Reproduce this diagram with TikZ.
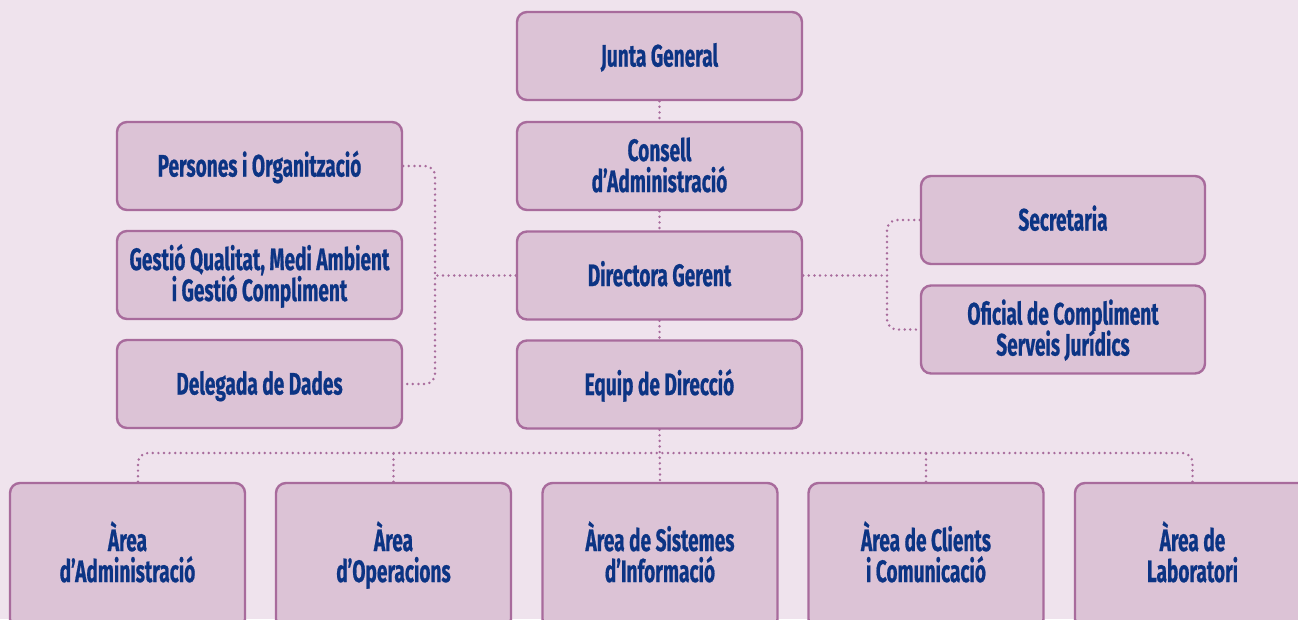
\documentclass[tikz,border=0pt]{standalone}
\usepackage{fontspec}
\setmainfont{Fira Sans}[FakeStretch=0.615, BoldFeatures={FakeBold=0.6}]
\usetikzlibrary{calc}
\definecolor{bgc}{HTML}{EFE3ED}
\definecolor{boxfill}{HTML}{DCC3D6}
\definecolor{boxline}{HTML}{A86B9C}
\definecolor{txt}{HTML}{0C3484}
\newcommand\tl[1]{\rule{0pt}{21pt}\smash{#1}}
\tikzset{
  orgbox/.style={draw=boxline, fill=boxfill, line width=2.4pt, rounded corners=10pt,
    minimum width=285pt, minimum height=88pt, align=center, text=txt,
    font=\bfseries\fontsize{31}{31}\selectfont, inner sep=0pt},
  areabox/.style={orgbox, minimum width=235pt, minimum height=146pt},
  conn/.style={draw=boxline, line width=2.7pt, line cap=round, dash pattern=on 0pt off 5.6pt},
}
\begin{document}
\begin{tikzpicture}[x=1pt, y=-1pt]
\fill[bgc] (0,0) rectangle (1298,619);
\useasboundingbox (0,0) rectangle (1298,619);
\clip (0,0) rectangle (1298,619);
% central column
\node[orgbox] (JG) at (659.5,56) {\tl{Junta General}};
\node[orgbox] (CA) at (659.5,166) {\tl{Consell}\\\tl{d’Administració}};
\node[orgbox] (DG) at (659.5,275.5) {\tl{Directora Gerent}};
\node[orgbox] (ED) at (659.5,384.5) {\tl{Equip de Direcció}};
% left column
\node[orgbox] (PO) at (259.5,166) {\tl{Persones i Organització}};
\node[orgbox] (GQ) at (259.5,275) {\tl{Gestió Qualitat, Medi Ambient}\\\tl{i Gestió Compliment}};
\node[orgbox] (DD) at (259.5,384) {\tl{Delegada de Dades}};
% right column
\node[orgbox, minimum width=284pt] (SE) at (1063,220) {\tl{Secretaria}};
\node[orgbox, minimum width=284pt] (OC) at (1063,329.5) {\tl{Oficial de Compliment}\\\tl{Serveis Jurídics}};
% bottom row
\node[areabox] (A1) at (127.5,556) {\tl{Àrea}\\\tl{d’Administració}};
\node[areabox] (A2) at (393.5,556) {\tl{Àrea}\\\tl{d’Operacions}};
\node[areabox] (A3) at (660,556) {\tl{Àrea de Sistemes}\\\tl{d’Informació}};
\node[areabox] (A4) at (926,556) {\tl{Àrea de Clients}\\\tl{i Comunicació}};
\node[areabox] (A5) at (1192.5,556) {\tl{Àrea de}\\\tl{Laboratori}};
% junctions
\coordinate (lx) at (435,275.5);
\coordinate (rx) at (887,275.5);
\coordinate (bus) at (660,453);
% connectors
\draw[conn] (JG.south) -- (CA.north);
\draw[conn] (CA.south) -- (DG.north);
\draw[conn] (DG.south) -- (ED.north);
\draw[conn, rounded corners=10pt] (PO.east) -| (lx) |- (DD.east);
\draw[conn] (DG.west) -- (lx);
\draw[conn, rounded corners=10pt] (SE.west) -| (rx) |- (OC.west);
\draw[conn] (DG.east) -- (rx);
\draw[conn] (ED.south) -- (A3.north);
\draw[conn, rounded corners=10pt] ([xshift=10.5pt]A1.north) |- (bus) -| (A5.north);
\draw[conn] (A2.north) -- (A2.north |- bus);
\draw[conn] (A4.north) -- (A4.north |- bus);
\end{tikzpicture}
\end{document}
